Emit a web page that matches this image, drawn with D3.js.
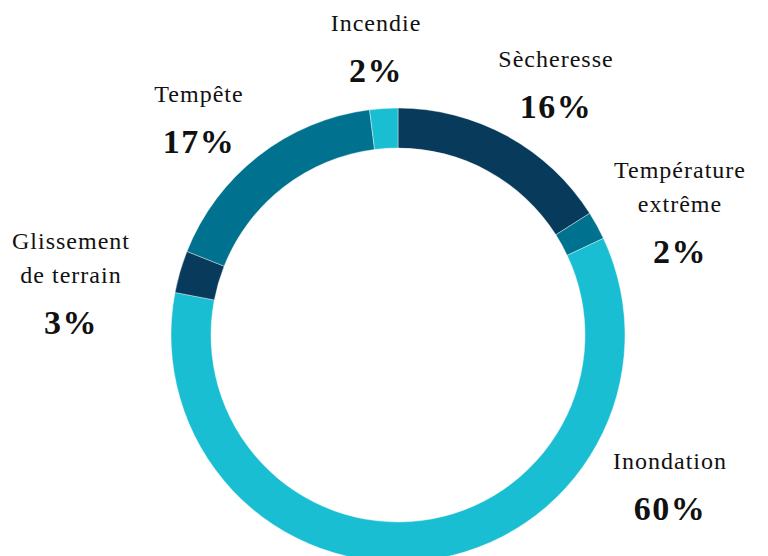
<!DOCTYPE html>
<html>
<head>
<meta charset="utf-8">
<script src="https://cdn.jsdelivr.net/npm/d3@7"></script>
<style>
  html, body { margin: 0; padding: 0; background: #ffffff; }
  svg { display: block; }
  .name { font-family: "Liberation Serif", "Times New Roman", serif; font-size: 24px; letter-spacing: 1px; fill: #111; }
  .pct { font-family: "Liberation Serif", "Times New Roman", serif; font-size: 34px; font-weight: bold; letter-spacing: 1.5px; fill: #111; }
</style>
</head>
<body>
<svg id="chart" width="768" height="556"></svg>
<script>
// Share of events by hazard type (percent), clockwise from the top
const categories = ["Sècheresse", "Température extrême", "Inondation", "Glissement de terrain", "Tempête", "Incendie"];
const values = [16, 2, 60, 3, 17, 2];
// Label lines for each category (multi-line names)
const labelLines = [["Sècheresse"], ["Température", "extrême"], ["Inondation"], ["Glissement", "de terrain"], ["Tempête"], ["Incendie"]];
const colors = ["#073a5b", "#00718f", "#1abed3", "#073a5b", "#00718f", "#1abed3"];

// Layout: label anchor points (center x, baseline of first line)
const labelAnchor = [[556, 67], [680, 178], [670, 469], [71, 249], [199, 102], [376, 31]];

const width = 768, height = 556;
const cx = 398, cy = 335;
const outerR = 227, innerR = 187;

const svg = d3.select("#chart");
const g = svg.append("g").attr("transform", `translate(${cx},${cy})`);

const pie = d3.pie().sort(null).value(d => d.value).startAngle(0).endAngle(2 * Math.PI);
const arc = d3.arc().innerRadius(innerR).outerRadius(outerR);

const data = categories.map((c, i) => ({ name: c, value: values[i], color: colors[i] }));

g.selectAll("path.slice")
  .data(pie(data))
  .join("path")
  .attr("class", "slice")
  .attr("d", arc)
  .attr("fill", d => d.data.color)
  .attr("stroke", "#ffffff")
  .attr("stroke-width", 0.4);

// Labels: name lines, then bold percentage
const lab = svg.append("g");
data.forEach((d, i) => {
  const [x, y] = labelAnchor[i];
  const lines = labelLines[i];
  lines.forEach((ln, j) => {
    lab.append("text")
      .attr("class", "name")
      .attr("x", x)
      .attr("y", y + j * 34)
      .attr("text-anchor", "middle")
      .text(ln);
  });
  lab.append("text")
    .attr("class", "pct")
    .attr("x", x)
    .attr("y", y + (lines.length - 1) * 34 + 51)
    .attr("text-anchor", "middle")
    .text(d.value + "%");
});
</script>
</body>
</html>
